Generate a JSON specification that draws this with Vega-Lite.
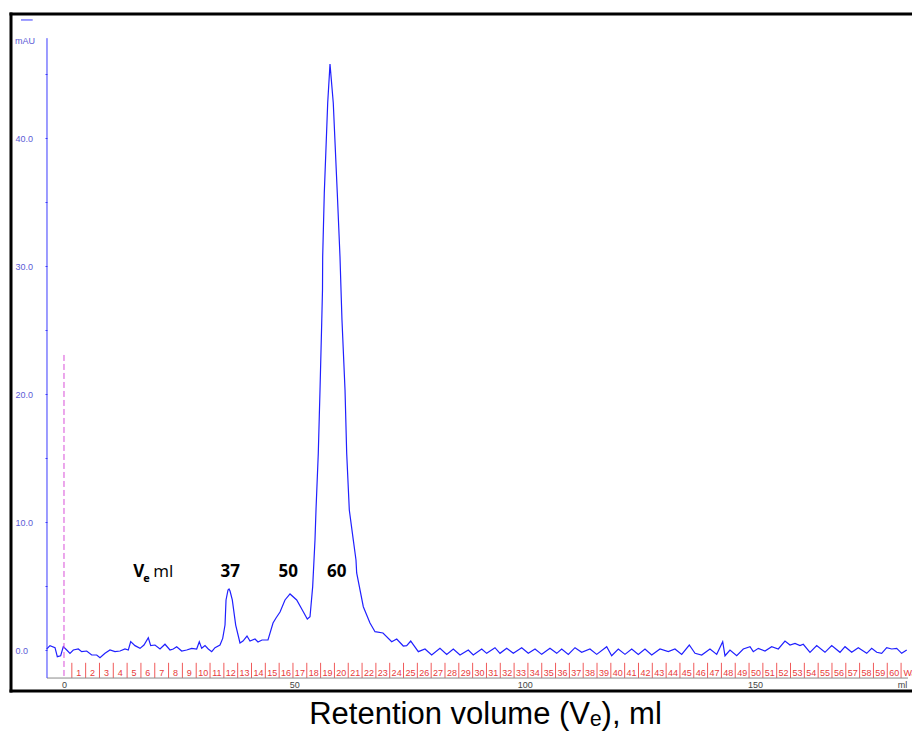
{
  "$schema": "https://vega.github.io/schema/vega-lite/v6.json",
  "width": 901,
  "height": 677,
  "autosize": {"type": "none"},
  "padding": {"left": 11, "top": 14, "right": 0, "bottom": 41},
  "background": "white",
  "config": {"view": {"stroke": null}, "font": "Liberation Sans", "axis": {"grid": false}},
  "datasets": {
    "curve": [
      {"v":-3.76,"a":0.08},{"v":-3.04,"a":0.34},{"v":-1.95,"a":0.18},{"v":-1.45,"a":-0.52},{"v":-0.72,"a":-0.45},{"v":-0.15,"a":0.26},{"v":0.59,"a":0.0},{"v":1.30,"a":-0.26},{"v":2.02,"a":0.0},{"v":3.10,"a":0.08},{"v":3.84,"a":-0.13},{"v":4.93,"a":-0.08},{"v":6.01,"a":-0.39},{"v":7.10,"a":-0.39},{"v":7.81,"a":-0.60},{"v":8.90,"a":-0.26},{"v":9.98,"a":0.0},{"v":11.07,"a":-0.13},{"v":12.16,"a":-0.08},{"v":13.24,"a":0.08},{"v":13.96,"a":0.0},{"v":14.48,"a":0.65},{"v":15.41,"a":0.34},{"v":16.50,"a":0.13},{"v":17.36,"a":0.39},{"v":18.30,"a":0.96},{"v":18.82,"a":0.34},{"v":19.75,"a":0.39},{"v":20.84,"a":0.08},{"v":21.92,"a":0.45},{"v":23.01,"a":0.0},{"v":23.72,"a":0.08},{"v":24.46,"a":0.26},{"v":25.55,"a":-0.08},{"v":26.63,"a":0.0},{"v":27.72,"a":0.13},{"v":28.80,"a":0.08},{"v":29.37,"a":0.65},{"v":29.89,"a":0.13},{"v":30.61,"a":0.34},{"v":31.32,"a":0.08},{"v":32.06,"a":-0.13},{"v":32.78,"a":0.18},{"v":33.86,"a":0.39},{"v":34.45,"a":0.91},{"v":34.95,"a":1.95},{"v":35.17,"a":3.91},{"v":35.60,"a":4.69},{"v":35.82,"a":4.77},{"v":36.04,"a":4.61},{"v":36.53,"a":3.91},{"v":37.27,"a":1.95},{"v":38.20,"a":0.55},{"v":38.85,"a":0.70},{"v":39.72,"a":1.09},{"v":40.37,"a":0.70},{"v":41.46,"a":0.86},{"v":42.11,"a":0.63},{"v":42.98,"a":0.78},{"v":44.28,"a":0.78},{"v":45.37,"a":2.11},{"v":46.02,"a":2.50},{"v":46.89,"a":2.97},{"v":47.97,"a":3.91},{"v":49.06,"a":4.38},{"v":50.51,"a":3.91},{"v":51.94,"a":2.99},{"v":52.81,"a":2.42},{"v":53.40,"a":2.60},{"v":53.98,"a":4.95},{"v":54.48,"a":8.59},{"v":54.70,"a":10.94},{"v":55.20,"a":15.39},{"v":55.57,"a":20.31},{"v":55.94,"a":25.55},{"v":56.11,"a":28.13},{"v":56.15,"a":30.70},{"v":56.50,"a":35.70},{"v":57.24,"a":42.73},{"v":57.74,"a":45.78},{"v":58.45,"a":42.73},{"v":59.32,"a":35.70},{"v":59.91,"a":30.70},{"v":60.13,"a":28.13},{"v":60.34,"a":25.78},{"v":61.00,"a":20.31},{"v":61.36,"a":15.39},{"v":61.93,"a":10.94},{"v":62.80,"a":8.59},{"v":63.38,"a":7.03},{"v":63.53,"a":6.02},{"v":64.97,"a":3.38},{"v":66.42,"a":2.11},{"v":67.51,"a":1.43},{"v":69.24,"a":1.33},{"v":71.13,"a":0.65},{"v":72.22,"a":0.86},{"v":73.65,"a":0.31},
      {"v":74.39,"a":0.34},{"v":75.26,"a":0.70},{"v":75.97,"a":0.34},{"v":76.91,"a":-0.13},{"v":78.36,"a":0.08},{"v":79.81,"a":-0.39},{"v":81.61,"a":0.13},{"v":83.07,"a":-0.34},{"v":84.50,"a":0.08},{"v":85.96,"a":-0.39},{"v":87.76,"a":0.0},{"v":88.84,"a":-0.39},{"v":90.67,"a":0.08},{"v":91.75,"a":-0.26},{"v":93.55,"a":0.18},{"v":94.64,"a":-0.26},{"v":96.09,"a":0.13},{"v":97.53,"a":-0.26},{"v":99.35,"a":0.18},{"v":100.78,"a":-0.26},{"v":102.24,"a":0.08},{"v":103.69,"a":-0.34},{"v":105.49,"a":0.13},{"v":106.95,"a":-0.26},{"v":108.03,"a":0.08},{"v":109.47,"a":-0.34},{"v":110.92,"a":0.18},{"v":112.37,"a":-0.18},{"v":114.17,"a":0.08},{"v":115.63,"a":-0.34},{"v":117.80,"a":0.26},{"v":118.88,"a":-0.45},{"v":120.32,"a":0.08},
      {"v":121.77,"a":-0.34},{"v":123.23,"a":0.08},{"v":124.66,"a":-0.34},{"v":126.11,"a":0.08},{"v":127.57,"a":-0.39},{"v":129.37,"a":0.08},{"v":131.17,"a":-0.13},{"v":132.62,"a":0.08},{"v":134.08,"a":-0.34},{"v":135.73,"a":0.39},{"v":136.97,"a":-0.26},{"v":138.42,"a":-0.39},{"v":140.22,"a":0.08},{"v":141.68,"a":-0.34},{"v":142.98,"a":0.65},{"v":143.48,"a":-0.45},{"v":144.56,"a":0.0},{"v":146.02,"a":-0.45},{"v":147.45,"a":0.08},{"v":148.91,"a":0.26},{"v":149.62,"a":-0.13},{"v":150.71,"a":0.13},{"v":152.16,"a":-0.08},{"v":153.61,"a":0.26},{"v":155.05,"a":0.08},{"v":156.50,"a":0.70},{"v":157.59,"a":0.39},{"v":158.67,"a":0.52},{"v":159.76,"a":0.34},{"v":160.47,"a":0.45},{"v":161.93,"a":-0.18},{"v":163.38,"a":0.34},{"v":165.18,"a":-0.18},{"v":166.64,"a":0.34},{"v":168.44,"a":-0.18},{"v":169.53,"a":0.26},{"v":170.98,"a":-0.18},{"v":172.41,"a":0.18},{"v":174.24,"a":-0.26},{"v":175.32,"a":0.13},{"v":176.41,"a":-0.18},{"v":177.49,"a":-0.26},{"v":178.58,"a":0.18},{"v":179.66,"a":0.08},{"v":180.75,"a":0.13},{"v":181.83,"a":-0.26},{"v":182.92,"a":0.0}
    ],
    "frac": [
      {"n":"1","start":1.7,"mid":3.2},{"n":"2","start":4.7,"mid":6.2},{"n":"3","start":7.7,"mid":9.2},{"n":"4","start":10.7,"mid":12.2},{"n":"5","start":13.7,"mid":15.2},{"n":"6","start":16.7,"mid":18.2},{"n":"7","start":19.7,"mid":21.2},{"n":"8","start":22.7,"mid":24.2},{"n":"9","start":25.7,"mid":27.2},{"n":"10","start":28.7,"mid":30.2},
      {"n":"11","start":31.7,"mid":33.2},{"n":"12","start":34.7,"mid":36.2},{"n":"13","start":37.7,"mid":39.2},{"n":"14","start":40.7,"mid":42.2},{"n":"15","start":43.7,"mid":45.2},{"n":"16","start":46.7,"mid":48.2},{"n":"17","start":49.7,"mid":51.2},{"n":"18","start":52.7,"mid":54.2},{"n":"19","start":55.7,"mid":57.2},{"n":"20","start":58.7,"mid":60.2},
      {"n":"21","start":61.7,"mid":63.2},{"n":"22","start":64.7,"mid":66.2},{"n":"23","start":67.7,"mid":69.2},{"n":"24","start":70.7,"mid":72.2},{"n":"25","start":73.7,"mid":75.2},{"n":"26","start":76.7,"mid":78.2},{"n":"27","start":79.7,"mid":81.2},{"n":"28","start":82.7,"mid":84.2},{"n":"29","start":85.7,"mid":87.2},{"n":"30","start":88.7,"mid":90.2},
      {"n":"31","start":91.7,"mid":93.2},{"n":"32","start":94.7,"mid":96.2},{"n":"33","start":97.7,"mid":99.2},{"n":"34","start":100.7,"mid":102.2},{"n":"35","start":103.7,"mid":105.2},{"n":"36","start":106.7,"mid":108.2},{"n":"37","start":109.7,"mid":111.2},{"n":"38","start":112.7,"mid":114.2},{"n":"39","start":115.7,"mid":117.2},{"n":"40","start":118.7,"mid":120.2},
      {"n":"41","start":121.7,"mid":123.2},{"n":"42","start":124.7,"mid":126.2},{"n":"43","start":127.7,"mid":129.2},{"n":"44","start":130.7,"mid":132.2},{"n":"45","start":133.7,"mid":135.2},{"n":"46","start":136.7,"mid":138.2},{"n":"47","start":139.7,"mid":141.2},{"n":"48","start":142.7,"mid":144.2},{"n":"49","start":145.7,"mid":147.2},{"n":"50","start":148.7,"mid":150.2},
      {"n":"51","start":151.7,"mid":153.2},{"n":"52","start":154.7,"mid":156.2},{"n":"53","start":157.7,"mid":159.2},{"n":"54","start":160.7,"mid":162.2},{"n":"55","start":163.7,"mid":165.2},{"n":"56","start":166.7,"mid":168.2},{"n":"57","start":169.7,"mid":171.2},{"n":"58","start":172.7,"mid":174.2},{"n":"59","start":175.7,"mid":177.2},{"n":"60","start":178.7,"mid":180.2},
      {"n":"Waste","start":181.7,"mid":182.2}
    ],
    "lines": [
      {"k":"frame","x":-11.504,"x2":-11.504,"y":-3.203,"y2":49.6875},
      {"k":"frame","x":-11.504,"x2":184.07,"y":49.6875,"y2":49.6875},
      {"k":"frame","x":-11.504,"x2":184.07,"y":-3.203,"y2":-3.203},
      {"k":"yaxis","x":-3.69,"x2":-3.69,"y":-2.19,"y2":47.8},
      {"k":"xaxis","x":-3.69,"x2":183.2,"y":-2.19,"y2":-2.19},
      {"k":"legend","x":-9.33,"x2":-6.79,"y":49.22,"y2":49.22},
      {"k":"inject","x":0,"x2":0,"y":23.05,"y2":-2.19}
    ],
    "notes": [
      {"t":"37","x":36.1,"y":5.7,"k":"num"},
      {"t":"50","x":48.69,"y":5.7,"k":"num"},
      {"t":"60","x":59.19,"y":5.7,"k":"num"},
      {"t":"V","x":15.04,"y":5.7,"k":"V"},
      {"t":"e","x":17.21,"y":5.31,"k":"sub"},
      {"t":"ml","x":19.38,"y":5.7,"k":"unit"},
      {"t":"mAU","x":-10.64,"y":47.58,"k":"axisunit"}
    ]
  },
  "layer": [
    {
      "data": {"name": "curve"},
      "mark": {"type": "line", "color": "#2020ff", "strokeWidth": 1.2},
      "encoding": {
        "x": {"field": "v", "type": "quantitative", "scale": {"domain": [-11.504, 184.07], "nice": false, "zero": false},
          "axis": {"orient": "bottom", "offset": -13, "domain": false, "grid": false, "ticks": false,
            "values": [0, 50, 100, 150, 181.9],
            "labelExpr": "datum.value > 170 ? 'ml' : format(datum.value, 'd')",
            "labelFont": "Liberation Sans", "labelFontSize": 9, "labelColor": "#444444", "labelPadding": 2,
            "labelFlush": false, "labelOverlap": false,
            "title": "Retention volume (Vₑ), ml", "titleFont": "Liberation Sans", "titleFontSize": 31,
            "titleFontWeight": "normal", "titleColor": "#000000", "titleX": 474, "titleY": 45,
            "titleBaseline": "alphabetic", "titleAlign": "center"}},
        "y": {"field": "a", "type": "quantitative", "scale": {"domain": [-3.203, 49.6875], "nice": false, "zero": false},
          "axis": {"orient": "left", "offset": -36, "domain": false, "grid": false, "ticks": true, "tickSize": 2,
            "tickColor": "#4040ff", "values": [0, 5, 10, 15, 20, 25, 30, 35, 40, 45],
            "labelExpr": "datum.value % 10 === 0 ? format(datum.value, '.1f') : ''",
            "labelAlign": "left", "labelPadding": 30, "labelBaseline": "middle",
            "labelFont": "Liberation Sans", "labelFontSize": 9, "labelColor": "#5b5bd6",
            "labelFlush": false, "labelOverlap": false, "title": null}}
      }
    },
    {
      "data": {"name": "frac"},
      "mark": {"type": "rule", "color": "#f05a5a", "strokeWidth": 1},
      "encoding": {
        "x": {"field": "start", "type": "quantitative"},
        "y": {"datum": -1.0, "type": "quantitative"},
        "y2": {"datum": -2.19}
      }
    },
    {
      "data": {"name": "frac"},
      "transform": [{"filter": "datum.n !== 'Waste'"}],
      "mark": {"type": "text", "color": "#e83a3a", "font": "Liberation Sans", "fontSize": 9, "align": "center", "baseline": "middle"},
      "encoding": {
        "x": {"field": "mid", "type": "quantitative"},
        "y": {"datum": -1.77, "type": "quantitative"},
        "text": {"field": "n"}
      }
    },
    {
      "data": {"name": "frac"},
      "transform": [{"filter": "datum.n === 'Waste'"}],
      "mark": {"type": "text", "color": "#e83a3a", "font": "Liberation Sans", "fontSize": 9, "align": "left", "baseline": "middle"},
      "encoding": {
        "x": {"field": "mid", "type": "quantitative"},
        "y": {"datum": -1.77, "type": "quantitative"},
        "text": {"field": "n"}
      }
    },
    {
      "data": {"name": "lines"},
      "transform": [{"filter": "datum.k === 'xaxis'"}],
      "mark": {"type": "rule", "color": "#8a8a8a", "strokeWidth": 1},
      "encoding": {
        "x": {"field": "x", "type": "quantitative"}, "x2": {"field": "x2"},
        "y": {"field": "y", "type": "quantitative"}, "y2": {"field": "y2"}
      }
    },
    {
      "data": {"name": "lines"},
      "transform": [{"filter": "datum.k === 'yaxis' || datum.k === 'legend'"}],
      "mark": {"type": "rule", "color": "#3a3aff", "strokeWidth": 1},
      "encoding": {
        "x": {"field": "x", "type": "quantitative"}, "x2": {"field": "x2"},
        "y": {"field": "y", "type": "quantitative"}, "y2": {"field": "y2"}
      }
    },
    {
      "data": {"name": "lines"},
      "transform": [{"filter": "datum.k === 'inject'"}],
      "mark": {"type": "rule", "color": "#d94fd9", "strokeWidth": 1, "strokeDash": [6, 3]},
      "encoding": {
        "x": {"field": "x", "type": "quantitative"}, "x2": {"field": "x2"},
        "y": {"field": "y", "type": "quantitative"}, "y2": {"field": "y2"}
      }
    },
    {
      "data": {"name": "lines"},
      "transform": [{"filter": "datum.k === 'frame'"}],
      "mark": {"type": "rule", "color": "#000000", "strokeWidth": 3, "strokeCap": "square"},
      "encoding": {
        "x": {"field": "x", "type": "quantitative"}, "x2": {"field": "x2"},
        "y": {"field": "y", "type": "quantitative"}, "y2": {"field": "y2"}
      }
    },
    {
      "data": {"name": "notes"},
      "transform": [{"filter": "datum.k === 'num'"}],
      "mark": {"type": "text", "color": "#000000", "font": "Open Sans", "fontWeight": "bold", "fontSize": 17, "align": "center", "baseline": "alphabetic"},
      "encoding": {
        "x": {"field": "x", "type": "quantitative"},
        "y": {"field": "y", "type": "quantitative"},
        "text": {"field": "t"}
      }
    },
    {
      "data": {"name": "notes"},
      "transform": [{"filter": "datum.k === 'V'"}],
      "mark": {"type": "text", "color": "#000000", "font": "Open Sans", "fontWeight": "bold", "fontSize": 17, "align": "left", "baseline": "alphabetic"},
      "encoding": {
        "x": {"field": "x", "type": "quantitative"},
        "y": {"field": "y", "type": "quantitative"},
        "text": {"field": "t"}
      }
    },
    {
      "data": {"name": "notes"},
      "transform": [{"filter": "datum.k === 'sub'"}],
      "mark": {"type": "text", "color": "#000000", "font": "Open Sans", "fontWeight": "bold", "fontSize": 11, "align": "left", "baseline": "alphabetic"},
      "encoding": {
        "x": {"field": "x", "type": "quantitative"},
        "y": {"field": "y", "type": "quantitative"},
        "text": {"field": "t"}
      }
    },
    {
      "data": {"name": "notes"},
      "transform": [{"filter": "datum.k === 'unit'"}],
      "mark": {"type": "text", "color": "#000000", "font": "Open Sans", "fontWeight": "normal", "fontSize": 17, "align": "left", "baseline": "alphabetic"},
      "encoding": {
        "x": {"field": "x", "type": "quantitative"},
        "y": {"field": "y", "type": "quantitative"},
        "text": {"field": "t"}
      }
    },
    {
      "data": {"name": "notes"},
      "transform": [{"filter": "datum.k === 'axisunit'"}],
      "mark": {"type": "text", "color": "#5b5bd6", "font": "Liberation Sans", "fontSize": 9, "align": "left", "baseline": "middle"},
      "encoding": {
        "x": {"field": "x", "type": "quantitative"},
        "y": {"field": "y", "type": "quantitative"},
        "text": {"field": "t"}
      }
    }
  ]
}
